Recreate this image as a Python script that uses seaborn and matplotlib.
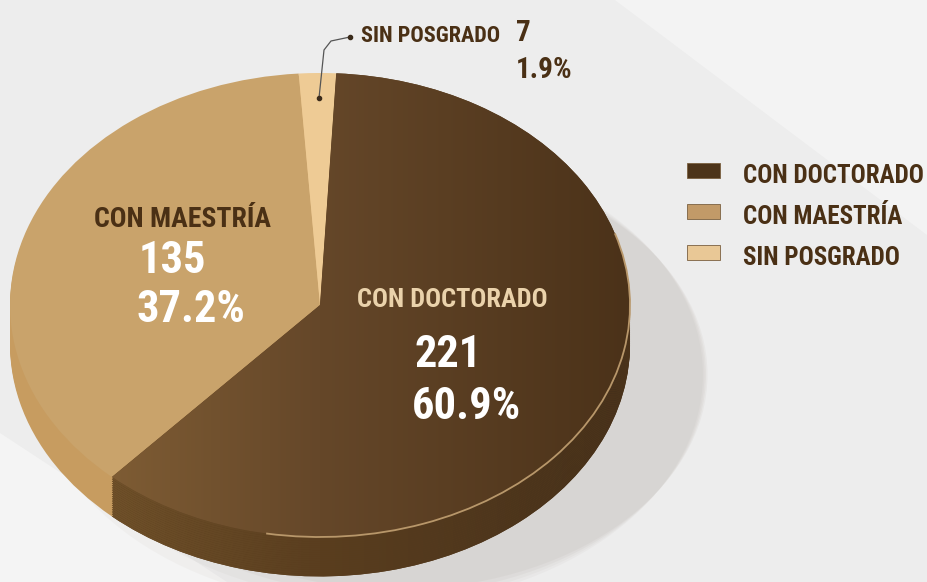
import numpy as np
import matplotlib.pyplot as plt
import seaborn as sns
from matplotlib.colors import LinearSegmentedColormap
from matplotlib.patches import Arc, Ellipse, Polygon

# Datos
categorias = ['CON DOCTORADO', 'CON MAESTRÍA', 'SIN POSGRADO']
valores = [221, 135, 7]
porcentajes = ['60.9%', '37.2%', '1.9%']

colores_cara = ['#5b3f1f', '#c9a36b', '#eecb95']
colores_lado = ['#5a3d1d', '#c79c60', '#e4bd86']
colores_leyenda = ['#4d3419', '#c29a68', '#e9c896']

sns.set_theme(style='white')
familias = ['Roboto Condensed', 'Liberation Sans Narrow', 'DejaVu Sans']
plt.rcParams['font.family'] = familias

W, H = 927, 582
fig = plt.figure(figsize=(W / 100, H / 100), dpi=100)
fig.patch.set_facecolor('#ededed')

# posicion del pastel en pixeles
cx, cy, rx, ry = 320, 305, 310, 232
ax = fig.add_axes([0, 0, 1, 1])
x0, x1 = -cx / rx, (W - cx) / rx
y0, y1 = -(H - cy) / ry, cy / ry

# fondo con franjas diagonales claras
ax.add_patch(Polygon([(0.95, y1), (x1, y1), (x1, 0.3)], closed=True,
                     color='white', alpha=0.35, lw=0, zorder=0))
ax.add_patch(Polygon([(x0, -0.55), (x0, y0), (-0.3, y0)], closed=True,
                     color='white', alpha=0.4, lw=0, zorder=0))

# sombra suave
for i, a in enumerate([0.04, 0.04, 0.05, 0.05]):
    ax.add_patch(Ellipse((0.16 + 0.03 * i, -0.3), 2.15 - 0.05 * i, 2.0 - 0.05 * i,
                         color='#7a6a58', alpha=a, lw=0, zorder=1))

# degradado para la porcion de doctorado
grad = np.linspace(0, 1, 256).reshape(1, -1)
cmap_cara = LinearSegmentedColormap.from_list('cara', ['#8a6639', '#654729', '#4b3219'])
cmap_lado = LinearSegmentedColormap.from_list('lado', ['#7a5a2f', '#5a3e1f', '#45301a'])

inicio = 87
prof = 0.17
n = 18
for k in range(n, 0, -1):
    z = 2 + (n - k) * 0.01
    cuñas, _ = ax.pie(valores, colors=colores_lado, startangle=inicio,
                      counterclock=False, center=(0, -prof * k / n), radius=1,
                      frame=True, wedgeprops=dict(linewidth=0))
    for w in cuñas:
        w.set_zorder(z)
    im = ax.imshow(grad, cmap=cmap_lado, extent=(-1, 1, -1.3, 1), aspect='auto',
                   zorder=z + 0.001)
    im.set_clip_path(cuñas[0])

# cara superior
caras, _ = ax.pie(valores, colors=colores_cara, startangle=inicio, counterclock=False,
                  center=(0, 0), radius=1, frame=True,
                  wedgeprops=dict(linewidth=0))
for w in caras:
    w.set_zorder(3)
im = ax.imshow(grad, cmap=cmap_cara, extent=(-1, 1, -1, 1), aspect='auto', zorder=3.01)
im.set_clip_path(caras[0])
ax.add_patch(Arc((0, 0), 2.0, 2.0, theta1=-100, theta2=18, color='#b8976a',
                 lw=1.3, zorder=4))

ax.set_xlim(x0, x1)
ax.set_ylim(y0, y1)
ax.set_aspect('auto')
ax.axis('off')

fuente = dict(family=familias, fontweight='bold')


def px(x, y):
    return x / W, 1 - y / H


oscuro = '#4a3015'
fig.text(*px(183, 227), 'CON MAESTRÍA', color=oscuro, fontsize=20,
         ha='center', va='baseline', **fuente)
fig.text(*px(139, 273), str(valores[1]), color='white', fontsize=32,
         ha='left', va='baseline', **fuente)
fig.text(*px(136, 322), porcentajes[1], color='white', fontsize=32,
         ha='left', va='baseline', **fuente)

fig.text(*px(452, 307), 'CON DOCTORADO', color='#ead2ab', fontsize=19,
         ha='center', va='baseline', **fuente)
fig.text(*px(414, 367), str(valores[0]), color='white', fontsize=32,
         ha='left', va='baseline', **fuente)
fig.text(*px(412, 419), porcentajes[0], color='white', fontsize=32,
         ha='left', va='baseline', **fuente)

# etiqueta de sin posgrado con guia
gx = [(319 - cx) / rx, (324 - cx) / rx, (331 - cx) / rx, (350 - cx) / rx]
gy = [(cy - 98) / ry, (cy - 50) / ry, (cy - 41) / ry, (cy - 37) / ry]
ax.plot(gx, gy, color='#555555', lw=0.9, zorder=6)
ax.plot([gx[0], gx[-1]], [gy[0], gy[-1]], ls='none', marker='o', ms=3,
        color='#3a2a1a', zorder=7)
fig.text(*px(361, 42), 'SIN POSGRADO', color=oscuro, fontsize=16,
         ha='left', va='baseline', **fuente)
fig.text(*px(516, 41), str(valores[2]), color=oscuro, fontsize=21,
         ha='left', va='baseline', **fuente)
fig.text(*px(516, 78), porcentajes[2], color=oscuro, fontsize=21,
         ha='left', va='baseline', **fuente)

# leyenda
for i, (cat, col) in enumerate(zip(categorias, colores_leyenda)):
    y = 173 + 41 * i
    fig.patches.append(plt.Rectangle(px(687, y + 5), 33 / W, 15 / H,
                                     transform=fig.transFigure, facecolor=col,
                                     edgecolor='#7a6040', lw=0.6, figure=fig))
    fig.text(*px(743, y + 10), cat, color=oscuro, fontsize=18,
             ha='left', va='baseline', **fuente)

fig.savefig('out.png', dpi=100, facecolor=fig.get_facecolor())
